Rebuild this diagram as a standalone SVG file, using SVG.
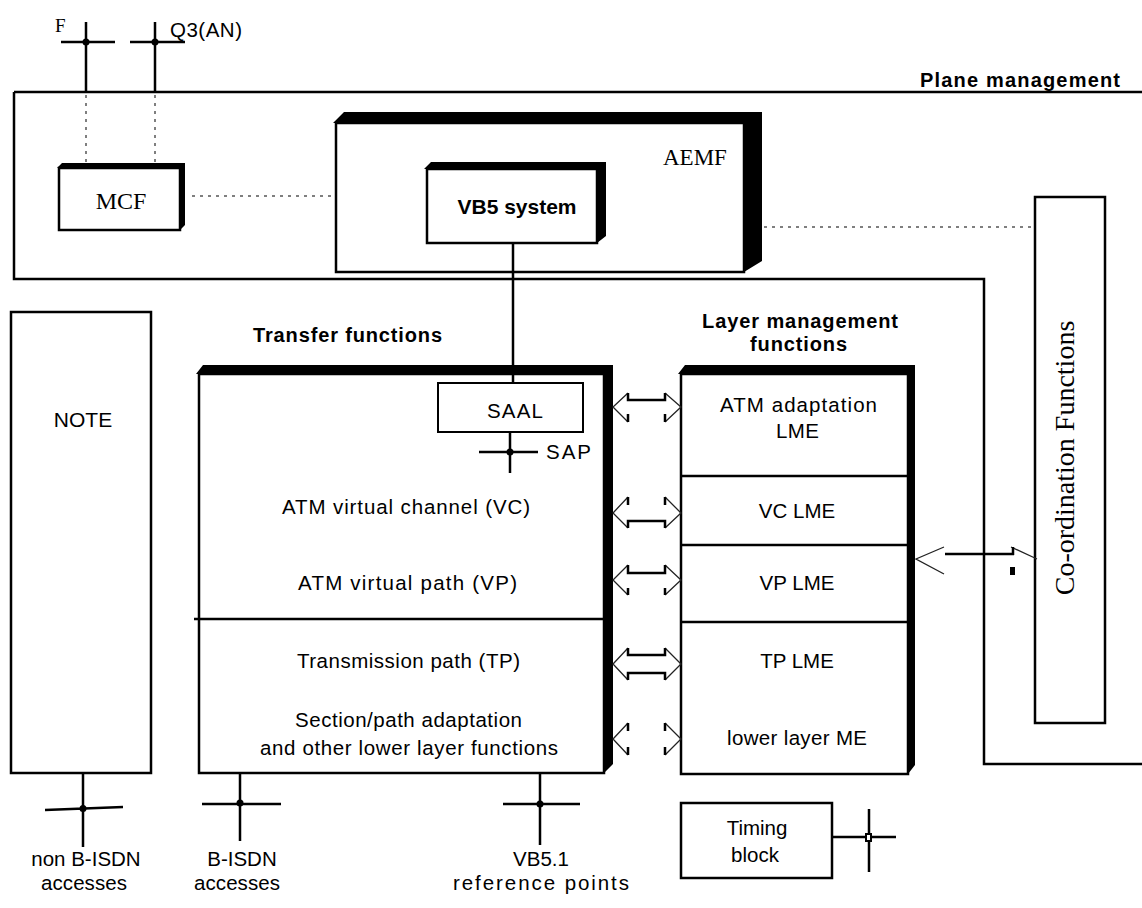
<svg xmlns="http://www.w3.org/2000/svg" width="1142" height="908" viewBox="0 0 1142 908">
<style>
.box{fill:#fff;stroke:#000;stroke-width:2.5}
.sh{fill:#000}
.ln{stroke:#000;stroke-width:2.5;fill:none}
.dot{stroke:#555;stroke-width:1.5;stroke-dasharray:3 5;fill:none}
.thin{stroke:#222;stroke-width:1.3;fill:none}
.s{font-family:"Liberation Sans",Arial,sans-serif;font-size:20.5px;fill:#000}
.b{font-family:"Liberation Sans",Arial,sans-serif;font-size:20px;font-weight:bold;fill:#000}
.r{font-family:"Liberation Serif","Times New Roman",serif;font-size:22px;fill:#000}
</style>
<rect width="1142" height="908" fill="#fff"/>

<g id="plane-management">
<path class="ln" d="M14,92 H1144 M14,92 V279 H984 V764 H1144"/>
<text class="b" x="920" y="87" textLength="200" lengthAdjust="spacing">Plane management</text>
</g>

<g id="ref-F">
<path class="ln" d="M86,22 V92 M61,42 H115"/>
<circle cx="86" cy="42" r="3.5"/>
<text class="r" x="55" y="32" style="font-size:19px">F</text>
</g>
<g id="ref-Q3">
<path class="ln" d="M155,22 V92 M130,42 H185"/>
<circle cx="155" cy="42" r="3.5"/>
<text class="s" x="170" y="37" textLength="72" lengthAdjust="spacing">Q3(AN)</text>
</g>

<g id="MCF">
<polygon class="sh" points="57,168 62,163 185,163 185,225 180,230 180,168"/>
<rect class="box" x="59" y="168" width="121" height="62"/>
<text class="r" x="121" y="209" text-anchor="middle" style="font-size:24px">MCF</text>
</g>

<g id="AEMF">
<polygon class="sh" points="333,123 344,112 762,112 762,261 744,272 744,123"/>
<rect class="box" x="336" y="123" width="408" height="149"/>
<text class="r" x="663" y="165" style="font-size:23px">AEMF</text>
</g>

<g id="VB5-system">
<polygon class="sh" points="424,169 431,162 606,162 606,236 597,243 597,169"/>
<rect class="box" x="427" y="169" width="170" height="74"/>
<text class="b" x="517" y="214" text-anchor="middle" style="font-size:21px">VB5 system</text>
</g>

<g id="coordination">
<rect class="box" x="1035" y="197" width="70" height="526"/>
<text class="r" transform="translate(1074,458) rotate(-90)" text-anchor="middle" style="font-size:28px">Co-ordination Functions</text>
</g>

<g id="NOTE">
<rect class="box" x="11" y="312" width="140" height="461"/>
<text class="s" x="83" y="427" text-anchor="middle" style="font-size:21px">NOTE</text>
</g>

<g id="transfer-functions">
<text class="b" x="253" y="342" textLength="189" lengthAdjust="spacing">Transfer functions</text>
<polygon class="sh" points="196,374 203,365 613,365 613,764 604,773 604,374"/>
<rect class="box" x="199" y="374" width="405" height="399"/>
<path class="ln" d="M194,619 H604"/>
<text class="s" x="282" y="514" textLength="248" lengthAdjust="spacing">ATM virtual channel  (VC)</text>
<text class="s" x="298" y="590" textLength="219" lengthAdjust="spacing">ATM virtual path  (VP)</text>
<text class="s" x="297" y="668" textLength="223" lengthAdjust="spacing">Transmission path (TP)</text>
<text class="s" x="295" y="727" textLength="227" lengthAdjust="spacing">Section/path adaptation</text>
<text class="s" x="260" y="755" textLength="298" lengthAdjust="spacing">and other lower layer functions</text>
</g>

<g id="SAAL">
<rect x="438" y="383" width="145" height="49" fill="#fff" stroke="#000" stroke-width="2"/>
<text class="s" x="487" y="418" textLength="56" lengthAdjust="spacing">SAAL</text>
</g>
<g id="SAP">
<path class="ln" d="M510,432 V473 M479,452 H538"/>
<circle cx="510" cy="452" r="3.5"/>
<text class="s" x="546" y="459" textLength="45" lengthAdjust="spacing">SAP</text>
</g>

<g id="layer-management">
<text class="b" x="702" y="328" textLength="196" lengthAdjust="spacing">Layer management</text>
<text class="b" x="750" y="351" textLength="97" lengthAdjust="spacing">functions</text>
<polygon class="sh" points="678,374 685,365 915,365 915,765 908,774 908,374"/>
<rect class="box" x="681" y="374" width="227" height="400"/>
<path class="ln" d="M681,476 H908 M681,545 H908 M681,622 H908"/>
<text class="s" x="720" y="412" textLength="157" lengthAdjust="spacing">ATM adaptation</text>
<text class="s" x="776" y="438" textLength="43" lengthAdjust="spacing">LME</text>
<text class="s" x="797" y="518" text-anchor="middle">VC LME</text>
<text class="s" x="797" y="590" text-anchor="middle">VP LME</text>
<text class="s" x="797" y="668" text-anchor="middle">TP LME</text>
<text class="s" x="727" y="745" textLength="140" lengthAdjust="spacing">lower layer ME</text>
</g>

<g id="timing-block">
<rect class="box" x="681" y="803" width="151" height="75"/>
<text class="s" x="757" y="835" text-anchor="middle">Timing</text>
<text class="s" x="755" y="862" text-anchor="middle">block</text>
<path class="ln" d="M832,837 H896 M869,809 V872"/>
<rect x="866" y="834" width="5" height="7" fill="#fff" stroke="#000" stroke-width="2"/>
</g>

<g id="access-points">
<path class="ln" d="M83,773 V847 M45,810 L123,807"/>
<circle cx="83" cy="808.5" r="3.5"/>
<path class="ln" d="M240,773 V841 M202,804 H281"/>
<circle cx="240" cy="803" r="3.5"/>
<path class="ln" d="M540,773 V845 M503,804 H580"/>
<circle cx="540" cy="804" r="3.5"/>
<text class="s" x="86" y="866" text-anchor="middle">non B-ISDN</text>
<text class="s" x="84" y="890" text-anchor="middle" textLength="86" lengthAdjust="spacing">accesses</text>
<text class="s" x="242" y="866" text-anchor="middle">B-ISDN</text>
<text class="s" x="237" y="890" text-anchor="middle" textLength="86" lengthAdjust="spacing">accesses</text>
<text class="s" x="541" y="866" text-anchor="middle">VB5.1</text>
<text class="s" x="541" y="890" text-anchor="middle" textLength="176" lengthAdjust="spacing">reference points</text>
</g>

<g id="connectors">
<path class="dot" d="M86,95 V162 M155,95 V162"/>
<path class="dot" d="M192,196 H334"/>
<path class="dot" d="M764,227 H1033"/>
<path class="ln" d="M513,243 V383"/>
<g>
<path class="thin" d="M628,393 L613,407 L628,422 M665,393 L681,407 L665,422"/>
<path class="ln" d="M628,393 V400 H665 V393 M628,414 V422 M665,414 V422"/>
</g>
<g>
<path class="thin" d="M628,497 L613,513 L628,528 M665,497 L681,513 L665,528"/>
<path class="ln" d="M628,497 V505 M665,497 V505 M628,528 V521 H665 V528"/>
</g>
<g>
<path class="thin" d="M628,565 L613,580 L628,595 M665,565 L681,580 L665,595"/>
<path class="ln" d="M628,565 V573 H665 V565 M628,588 V595 M665,588 V595"/>
</g>
<g>
<path class="thin" d="M628,648 L613,664 L628,680 M665,648 L681,664 L665,680"/>
<path class="ln" d="M628,648 V655 H665 V648 M628,680 V673 H665 V680"/>
</g>
<g>
<path class="thin" d="M628,723 L613,739 L628,755 M665,723 L681,739 L665,755"/>
<path class="ln" d="M628,723 V731 M665,723 V731 M628,747 V755 M665,747 V755"/>
</g>
<g>
<path class="thin" d="M944,547 L916,559 L944,574 M1011,547 L1037,559"/>
<path class="ln" d="M945,554 H1014 M1013,547 V555"/>
<rect x="1010" y="567" width="5" height="8"/>
</g>
</g>
</svg>
